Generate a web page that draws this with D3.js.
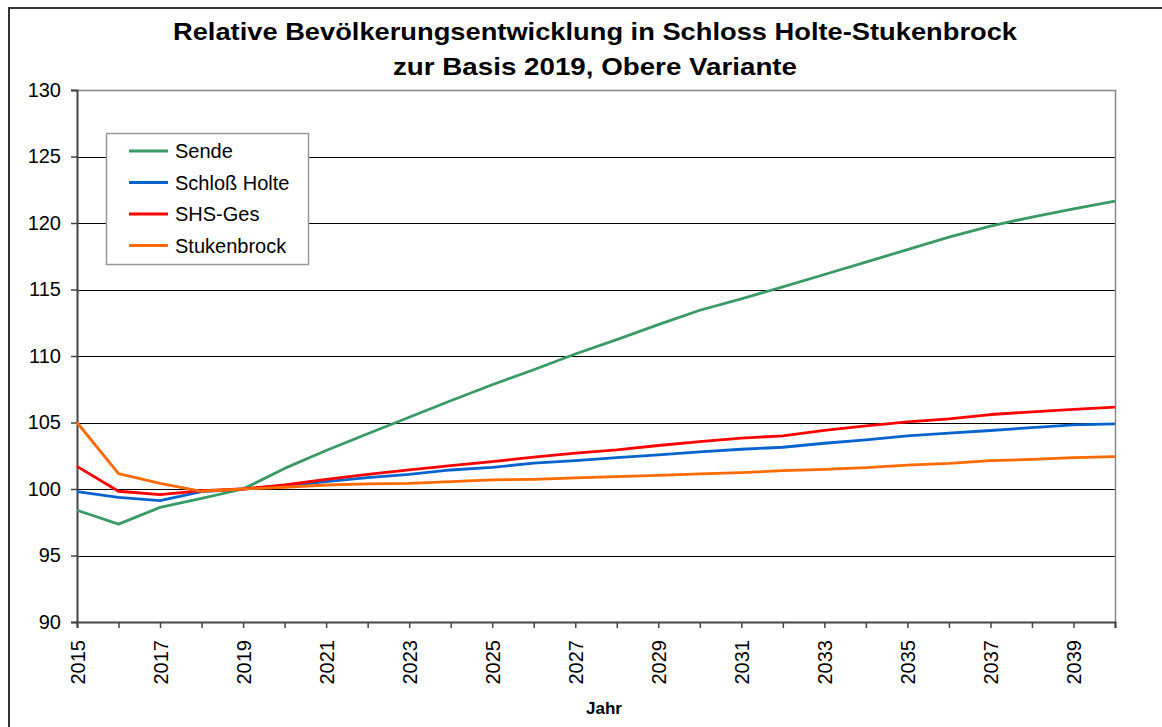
<!DOCTYPE html>
<html>
<head>
<meta charset="utf-8">
<script src="https://cdn.jsdelivr.net/npm/d3@7"></script>
<style>
  body { margin: 0; background: #fff; }
  text { font-family: "Liberation Sans", Arial, sans-serif; fill: #000; }
</style>
</head>
<body>
<svg id="chart" width="1162" height="727"></svg>
<script>
// data
const years = d3.range(2015, 2041);
const sende = [98.4, 97.36, 98.62, 99.3, 100, 101.55, 102.9, 104.15, 105.4, 106.63, 107.84, 108.97, 110.15, 111.23, 112.36, 113.44, 114.3, 115.2, 116.13, 117.06, 118.0, 118.94, 119.77, 120.45, 121.07, 121.65];
const schlossHolte = [99.8, 99.37, 99.12, 99.8, 100, 100.23, 100.55, 100.85, 101.1, 101.43, 101.63, 101.94, 102.13, 102.36, 102.56, 102.79, 102.99, 103.14, 103.44, 103.69, 103.99, 104.2, 104.4, 104.62, 104.82, 104.9];
const shsGes = [101.7, 99.83, 99.57, 99.87, 100, 100.3, 100.73, 101.1, 101.43, 101.76, 102.06, 102.39, 102.69, 102.94, 103.27, 103.57, 103.82, 104.0, 104.4, 104.75, 105.05, 105.27, 105.6, 105.8, 105.98, 106.16];
const stukenbrock = [105.0, 101.15, 100.43, 99.83, 100, 100.13, 100.3, 100.38, 100.43, 100.55, 100.68, 100.73, 100.83, 100.93, 101.03, 101.13, 101.23, 101.38, 101.48, 101.6, 101.8, 101.93, 102.13, 102.23, 102.36, 102.43];

const seriesNames = ["Sende", "Schloß Holte", "SHS-Ges", "Stukenbrock"];
const seriesColors = ["#3a9a66", "#0864cc", "#ff0000", "#ff6a00"];
const seriesValues = [sende, schlossHolte, shsGes, stukenbrock];
const yTicks = [90, 95, 100, 105, 110, 115, 120, 125, 130];

const svg = d3.select("#chart");
const margin = { left: 77, top: 90, right: 1115, bottom: 622 };

// outer frame of the chart object
svg.append("rect")
  .attr("x", 9).attr("y", 8)
  .attr("width", 1160).attr("height", 730)
  .attr("fill", "none").attr("stroke", "#333").attr("stroke-width", 2);

const x = d3.scaleLinear().domain([2015, 2040]).range([margin.left, margin.right]);
const y = d3.scaleLinear().domain([90, 130]).range([margin.bottom, margin.top]);

// gridlines
svg.append("g")
  .selectAll("line")
  .data(yTicks.filter(d => d > 90 && d < 130))
  .join("line")
  .attr("x1", margin.left).attr("x2", margin.right)
  .attr("y1", d => Math.round(y(d)) + 0.5).attr("y2", d => Math.round(y(d)) + 0.5)
  .attr("stroke", "#000").attr("stroke-width", 1);

// plot frame top + right (grey)
svg.append("path")
  .attr("d", `M${margin.left},${margin.top + 0.5}H${margin.right + 0.5}V${margin.bottom}`)
  .attr("fill", "none").attr("stroke", "#888").attr("stroke-width", 1.5);

// y axis
const yAxis = svg.append("g")
  .attr("transform", `translate(${margin.left},0)`)
  .call(d3.axisLeft(y).tickValues(yTicks).tickSize(6).tickPadding(10));
yAxis.select(".domain").attr("stroke", "#444").attr("stroke-width", 2);
yAxis.selectAll(".tick line").attr("stroke", "#444").attr("stroke-width", 1.5);
yAxis.selectAll(".tick text")
  .attr("font-size", 20).attr("font-family", "Liberation Sans, Arial, sans-serif").attr("fill", "#000");

// x axis: tick every year, label every other year
const xAxis = svg.append("g")
  .attr("transform", `translate(0,${margin.bottom})`)
  .call(d3.axisBottom(x).tickValues(years).tickSize(6)
    .tickFormat(d => (d - 2015) % 2 === 0 ? d : ""));
xAxis.select(".domain").attr("stroke", "#444").attr("stroke-width", 2);
xAxis.selectAll(".tick line").attr("stroke", "#444").attr("stroke-width", 1.5);
xAxis.selectAll(".tick text")
  .attr("font-size", 20).attr("font-family", "Liberation Sans, Arial, sans-serif").attr("fill", "#000")
  .attr("transform", "rotate(-90)")
  .attr("text-anchor", "end")
  .attr("x", -18).attr("y", 0).attr("dy", "0.35em");

// lines
const line = d3.line()
  .x((d, i) => x(years[i]))
  .y(d => y(d));

seriesValues.forEach((vals, k) => {
  svg.append("path")
    .datum(vals)
    .attr("d", line)
    .attr("fill", "none")
    .attr("stroke", seriesColors[k])
    .attr("stroke-width", 2.8)
    .attr("stroke-linejoin", "round");
});

// legend
const legend = svg.append("g");
legend.append("rect")
  .attr("x", 106.5).attr("y", 133.5).attr("width", 202).attr("height", 131)
  .attr("fill", "#fff").attr("stroke", "#999").attr("stroke-width", 1.5);
seriesNames.forEach((name, k) => {
  const ly = 151 + k * 31.5;
  legend.append("line")
    .attr("x1", 129).attr("x2", 168).attr("y1", ly).attr("y2", ly)
    .attr("stroke", seriesColors[k]).attr("stroke-width", 3);
  legend.append("text")
    .attr("x", 175).attr("y", ly).attr("dy", "0.35em")
    .attr("font-size", 20)
    .text(name);
});

// title
svg.append("text")
  .attr("x", 595).attr("y", 40)
  .attr("text-anchor", "middle")
  .attr("font-size", 24).attr("font-weight", "bold")
  .attr("textLength", 844).attr("lengthAdjust", "spacingAndGlyphs")
  .text("Relative Bevölkerungsentwicklung in Schloss Holte-Stukenbrock");
svg.append("text")
  .attr("x", 595).attr("y", 75)
  .attr("text-anchor", "middle")
  .attr("font-size", 24).attr("font-weight", "bold")
  .attr("textLength", 404).attr("lengthAdjust", "spacingAndGlyphs")
  .text("zur Basis 2019, Obere Variante");

// x axis title
svg.append("text")
  .attr("x", 604).attr("y", 714)
  .attr("text-anchor", "middle")
  .attr("font-size", 17).attr("font-weight", "bold")
  .text("Jahr");
</script>
</body>
</html>
